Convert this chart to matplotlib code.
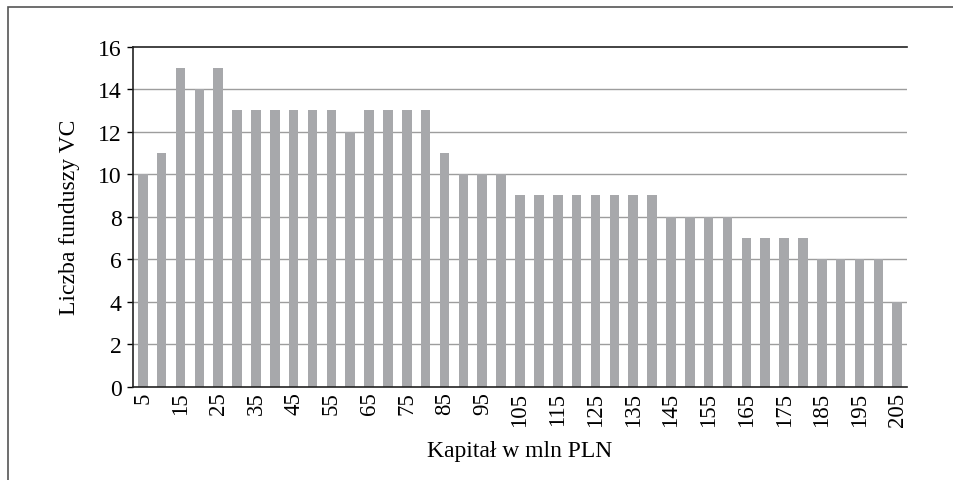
import matplotlib
matplotlib.use("Agg")
import matplotlib.pyplot as plt
from matplotlib.patches import Rectangle

categories = [str(v) for v in range(5, 210, 5)]
values = [10, 11, 15, 14, 15, 13, 13, 13, 13, 13, 13, 12, 13, 13, 13, 13, 11, 10, 10, 10,
          9, 9, 9, 9, 9, 9, 9, 9, 8, 8, 8, 8, 7, 7, 7, 7, 6, 6, 6, 6, 4]
yticks = [0, 2, 4, 6, 8, 10, 12, 14, 16]

plt.rcParams['font.family'] = ['Liberation Serif', 'DejaVu Serif']

fig = plt.figure(figsize=(9.54, 4.81), dpi=100)
W, H = 954, 481
ax = fig.add_axes([133.3 / W, 1 - 387.7 / H, (906.7 - 133.3) / W, (387.7 - 47.7) / H])

x = list(range(len(categories)))
ax.bar(x, values, width=0.51, color='#A7A8AB', zorder=2)
ax.set_xlim(-0.5, len(categories) - 0.5)
ax.set_ylim(0, 16)
ax.set_yticks(yticks)
ax.set_yticklabels([str(t) for t in yticks], fontsize=17)
ax.set_xticks(x[::2])
ax.set_xticklabels(categories[::2], rotation=90, fontsize=16.5)
ax.tick_params(axis='x', length=0, pad=3.5)
ax.tick_params(axis='y', direction='out', length=4.3, width=1, pad=4)
for t in yticks[1:-1]:
    ax.axhline(t, color='#9D9D9D', lw=1, zorder=1)
ax.spines['right'].set_visible(False)
for s in ['top', 'left', 'bottom']:
    ax.spines[s].set_color('#222222')
    ax.spines[s].set_linewidth(1.2)
ax.set_ylabel('Liczba funduszy VC', fontsize=17, labelpad=13)
ax.set_xlabel('Kapitał w mln PLN', fontsize=17, labelpad=10)

fig.patches.append(Rectangle((8 / W, -0.1), 1.2, 1 - 8 / H + 0.1, transform=fig.transFigure,
                             fill=False, edgecolor='#555555', lw=1.2))

fig.savefig('out.png', dpi=100)
